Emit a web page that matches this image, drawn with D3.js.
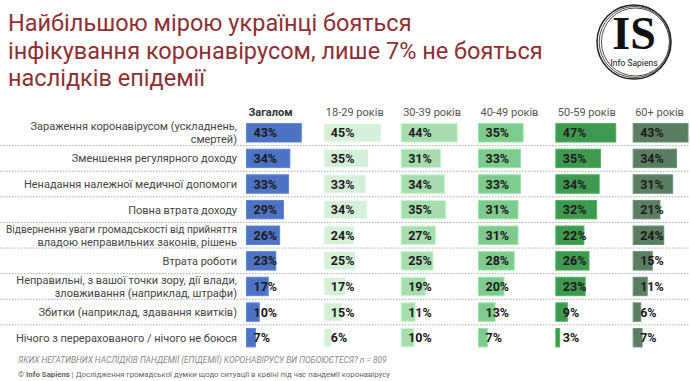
<!DOCTYPE html>
<html lang="uk">
<head>
    <meta charset="UTF-8">
    <title>Наслідки епідемії</title>
    <script src="https://d3js.org/d3.v7.min.js"></script>
    <style>
        body { margin: 0; background: #fff; }
        svg { display: block; font-family: Roboto, "Noto Sans", sans-serif; }
    </style>
</head>
<body>
<script type="text/javascript">
    var svgWidth = 690;
    var svgHeight = 381;

    var titleLines = [
        "Найбільшою мірою українці бояться",
        "інфікування коронавірусом, лише 7% не бояться",
        "наслідків епідемії"
    ];

    var categories = [
        ["Зараження коронавірусом (ускладнень,", "смертей)"],
        ["Зменшення регулярного доходу"],
        ["Ненадання належної медичної допомоги"],
        ["Повна втрата доходу"],
        ["Відвернення уваги громадськості від прийняття", "владою неправильних законів, рішень"],
        ["Втрата роботи"],
        ["Неправильні, з вашої точки зору, дії влади,", "зловживання (наприклад, штрафи)"],
        ["Збитки (наприклад, здавання квитків)"],
        ["Нічого з перерахованого / нічого не боюся"]
    ];

    var groups = ["Загалом", "18-29 років", "30-39 років", "40-49 років", "50-59 років", "60+ років"];

    var total = [43, 34, 33, 29, 26, 23, 17, 10, 7];
    var age18 = [45, 35, 33, 34, 24, 25, 17, 15, 6];
    var age30 = [44, 31, 34, 35, 27, 25, 19, 11, 10];
    var age40 = [35, 33, 33, 31, 31, 28, 20, 13, 7];
    var age50 = [47, 35, 34, 32, 22, 26, 23, 9, 3];
    var age60 = [43, 34, 31, 21, 24, 15, 11, 6, 7];

    var series = [total, age18, age30, age40, age50, age60];
    var colors = ["#4d73c2", "#d6efd9", "#a8dbb0", "#7fcb8e", "#3f9a50", "#5b7e63"];

    var question = "ЯКИХ НЕГАТИВНИХ НАСЛІДКІВ ПАНДЕМІЇ (ЕПІДЕМІЇ) КОРОНАВІРУСУ ВИ ПОБОЮЄТЕСЯ? n = 809";
    var source = " | Дослідження громадської думки щодо ситуації в країні під час пандемії коронавірусу";

    var svg = d3.select("body").append("svg")
        .attr("width", svgWidth)
        .attr("height", svgHeight);

    // title
    svg.append("g").selectAll("text")
        .data(titleLines)
        .enter()
        .append("text")
        .attr("x", 8)
        .attr("y", function (d, i) { return 31 + i * 27.5; })
        .attr("font-size", "23.5px")
        .attr("fill", "#8e2f33")
        .text(function (d) { return d; });

    // logo
    var logo = svg.append("g").attr("transform", "translate(634, 42)");
    [37, 35.5, 34].forEach(function (r, i) {
        logo.append("circle")
            .attr("r", r)
            .attr("cx", i * 0.7)
            .attr("fill", "none")
            .attr("stroke", "#222")
            .attr("stroke-width", i === 0 ? 1.5 : 0.8);
    });
    logo.append("text")
        .attr("y", 7)
        .attr("text-anchor", "middle")
        .attr("font-family", "'Liberation Serif', 'DejaVu Serif', serif")
        .attr("font-weight", "bold")
        .attr("font-size", "46px")
        .attr("fill", "#111")
        .text("IS");
    logo.append("text")
        .attr("y", 24)
        .attr("text-anchor", "middle")
        .attr("font-size", "8.5px")
        .attr("fill", "#111")
        .text("Info Sapiens");

    // scales
    var yScale = d3.scaleBand()
        .domain(d3.range(categories.length))
        .range([120, 350.5])
        .paddingInner(0.28)
        .paddingOuter(0.14);

    var colScale = d3.scaleBand()
        .domain(groups)
        .range([246.5, 710.5]);

    var wScale = d3.scaleLinear()
        .domain([0, 100])
        .range([0, 127.5]);

    // separators
    var step = yScale.step();
    svg.append("g").selectAll("line")
        .data(d3.range(1, categories.length))
        .enter()
        .append("line")
        .attr("x1", 0)
        .attr("x2", svgWidth)
        .attr("y1", function (d) { return yScale(d) - (step - yScale.bandwidth()) / 2; })
        .attr("y2", function (d) { return yScale(d) - (step - yScale.bandwidth()) / 2; })
        .attr("stroke", "#aaa")
        .attr("stroke-width", 1)
        .attr("stroke-dasharray", "1.5,1.5");

    // headers
    svg.append("g").selectAll("text")
        .data(groups)
        .enter()
        .append("text")
        .attr("x", function (d) { return colScale(d) + 2; })
        .attr("y", 116)
        .attr("font-size", "11px")
        .attr("font-weight", function (d, i) { return i === 0 ? "bold" : "normal"; })
        .attr("fill", function (d, i) { return i === 0 ? "#333" : "#555"; })
        .text(function (d) { return d; });

    // row labels
    var labels = svg.append("g").selectAll("text")
        .data(categories)
        .enter()
        .append("text")
        .attr("text-anchor", "end")
        .attr("font-size", "11px")
        .attr("fill", "#444")
        .attr("y", function (d, i) {
            return yScale(i) + yScale.bandwidth() / 2 + 4 - (d.length - 1) * 6.5;
        });
    labels.selectAll("tspan")
        .data(function (d) { return d; })
        .enter()
        .append("tspan")
        .attr("x", 237)
        .attr("dy", function (d, i) { return i === 0 ? 0 : 13; })
        .text(function (d) { return d; });

    // squeeze the long ones so they fit left of the bars
    labels.selectAll("tspan").each(function () {
        var len = this.getComputedTextLength();
        if (len > 231) {
            d3.select(this)
                .attr("textLength", 231)
                .attr("lengthAdjust", "spacingAndGlyphs");
        }
    });

    // bars
    series.forEach(function (values, gi) {
        var g = svg.append("g")
            .attr("transform", "translate(" + colScale(groups[gi]) + ", 0)");
        g.selectAll("rect")
            .data(values)
            .enter()
            .append("rect")
            .attr("x", 0)
            .attr("y", function (d, i) { return yScale(i); })
            .attr("width", function (d) { return wScale(d); })
            .attr("height", yScale.bandwidth())
            .attr("fill", colors[gi])
            .attr("stroke", d3.color(colors[gi]).brighter(0.4))
            .attr("stroke-width", 1);
        g.selectAll("text")
            .data(values)
            .enter()
            .append("text")
            .attr("x", 7)
            .attr("y", function (d, i) { return yScale(i) + yScale.bandwidth() / 2 + 4.5; })
            .attr("font-size", "12.5px")
            .attr("font-weight", "bold")
            .attr("fill", "#1a1a1a")
            .text(function (d) { return d + "%"; });
    });

    // footnotes
    svg.append("text")
        .attr("x", 18)
        .attr("y", 363)
        .attr("font-size", "8.4px")
        .attr("font-style", "italic")
        .attr("fill", "#888")
        .text(question);

    var src = svg.append("text")
        .attr("x", 18)
        .attr("y", 377)
        .attr("font-size", "7.8px")
        .attr("fill", "#666");
    src.append("tspan").text("© ");
    src.append("tspan").attr("font-weight", "bold").text("Info Sapiens");
    src.append("tspan").text(source);
</script>
</body>
</html>
